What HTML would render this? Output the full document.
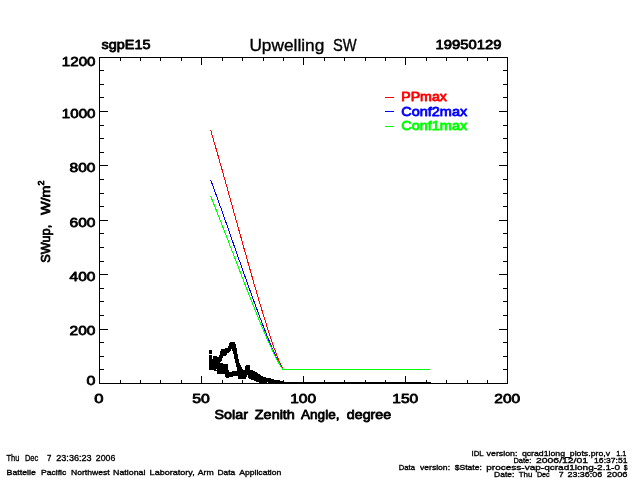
<!DOCTYPE html>
<html lang="en"><head><meta charset="utf-8"><title>Upwelling SW sgpE15 19950129</title>
<style>
html,body{margin:0;padding:0;background:#fff;}
body{width:640px;height:480px;overflow:hidden;}
svg{display:block;will-change:transform;}
text{font-family:"Liberation Sans",sans-serif;fill:#000;}
.b{stroke:#000;stroke-width:0.8px;stroke-linejoin:round;}
.s{stroke:#000;stroke-width:0.35px;}
.ax{stroke:#000;stroke-width:1;fill:none;shape-rendering:crispEdges;}
.ln{fill:none;stroke-width:1;shape-rendering:crispEdges;}
</style></head><body>
<svg width="640" height="480" viewBox="0 0 640 480">
<rect x="0" y="0" width="640" height="480" fill="#fff"/>
<g fill="#000" shape-rendering="crispEdges">
<rect x="99" y="57" width="409" height="1"/>
<rect x="99" y="383" width="409" height="1"/>
<rect x="99" y="57" width="1" height="327"/>
<rect x="507" y="57" width="1" height="327"/>
<rect x="120" y="380" width="1" height="3"/>
<rect x="120" y="58" width="1" height="3"/>
<rect x="140" y="380" width="1" height="3"/>
<rect x="140" y="58" width="1" height="3"/>
<rect x="160" y="380" width="1" height="3"/>
<rect x="160" y="58" width="1" height="3"/>
<rect x="181" y="380" width="1" height="3"/>
<rect x="181" y="58" width="1" height="3"/>
<rect x="201" y="376" width="1" height="7"/>
<rect x="201" y="58" width="1" height="7"/>
<rect x="222" y="380" width="1" height="3"/>
<rect x="222" y="58" width="1" height="3"/>
<rect x="242" y="380" width="1" height="3"/>
<rect x="242" y="58" width="1" height="3"/>
<rect x="263" y="380" width="1" height="3"/>
<rect x="263" y="58" width="1" height="3"/>
<rect x="283" y="380" width="1" height="3"/>
<rect x="283" y="58" width="1" height="3"/>
<rect x="303" y="376" width="1" height="7"/>
<rect x="303" y="58" width="1" height="7"/>
<rect x="324" y="380" width="1" height="3"/>
<rect x="324" y="58" width="1" height="3"/>
<rect x="344" y="380" width="1" height="3"/>
<rect x="344" y="58" width="1" height="3"/>
<rect x="365" y="380" width="1" height="3"/>
<rect x="365" y="58" width="1" height="3"/>
<rect x="385" y="380" width="1" height="3"/>
<rect x="385" y="58" width="1" height="3"/>
<rect x="405" y="376" width="1" height="7"/>
<rect x="405" y="58" width="1" height="7"/>
<rect x="426" y="380" width="1" height="3"/>
<rect x="426" y="58" width="1" height="3"/>
<rect x="446" y="380" width="1" height="3"/>
<rect x="446" y="58" width="1" height="3"/>
<rect x="467" y="380" width="1" height="3"/>
<rect x="467" y="58" width="1" height="3"/>
<rect x="487" y="380" width="1" height="3"/>
<rect x="487" y="58" width="1" height="3"/>
<rect x="100" y="369" width="4" height="1"/>
<rect x="503" y="369" width="4" height="1"/>
<rect x="100" y="356" width="4" height="1"/>
<rect x="503" y="356" width="4" height="1"/>
<rect x="100" y="342" width="4" height="1"/>
<rect x="503" y="342" width="4" height="1"/>
<rect x="100" y="329" width="8" height="1"/>
<rect x="499" y="329" width="8" height="1"/>
<rect x="100" y="315" width="4" height="1"/>
<rect x="503" y="315" width="4" height="1"/>
<rect x="100" y="301" width="4" height="1"/>
<rect x="503" y="301" width="4" height="1"/>
<rect x="100" y="288" width="4" height="1"/>
<rect x="503" y="288" width="4" height="1"/>
<rect x="100" y="274" width="8" height="1"/>
<rect x="499" y="274" width="8" height="1"/>
<rect x="100" y="261" width="4" height="1"/>
<rect x="503" y="261" width="4" height="1"/>
<rect x="100" y="247" width="4" height="1"/>
<rect x="503" y="247" width="4" height="1"/>
<rect x="100" y="233" width="4" height="1"/>
<rect x="503" y="233" width="4" height="1"/>
<rect x="100" y="220" width="8" height="1"/>
<rect x="499" y="220" width="8" height="1"/>
<rect x="100" y="206" width="4" height="1"/>
<rect x="503" y="206" width="4" height="1"/>
<rect x="100" y="193" width="4" height="1"/>
<rect x="503" y="193" width="4" height="1"/>
<rect x="100" y="179" width="4" height="1"/>
<rect x="503" y="179" width="4" height="1"/>
<rect x="100" y="165" width="8" height="1"/>
<rect x="499" y="165" width="8" height="1"/>
<rect x="100" y="152" width="4" height="1"/>
<rect x="503" y="152" width="4" height="1"/>
<rect x="100" y="138" width="4" height="1"/>
<rect x="503" y="138" width="4" height="1"/>
<rect x="100" y="125" width="4" height="1"/>
<rect x="503" y="125" width="4" height="1"/>
<rect x="100" y="111" width="8" height="1"/>
<rect x="499" y="111" width="8" height="1"/>
<rect x="100" y="97" width="4" height="1"/>
<rect x="503" y="97" width="4" height="1"/>
<rect x="100" y="84" width="4" height="1"/>
<rect x="503" y="84" width="4" height="1"/>
<rect x="100" y="70" width="4" height="1"/>
<rect x="503" y="70" width="4" height="1"/>
</g>
<polyline class="ln" stroke="#ff0000" points="210.6,129.6 211.6,133.1 212.6,136.7 213.6,140.2 214.6,143.7 215.7,147.3 216.7,150.9 217.7,154.4 218.7,158.0 219.7,161.6 220.8,165.2 221.8,168.8 222.8,172.5 223.8,176.1 224.8,179.7 225.9,183.4 226.9,187.0 227.9,190.7 228.9,194.3 229.9,198.0 231.0,201.6 232.0,205.3 233.0,209.0 234.0,212.6 235.1,216.3 236.1,220.0 237.1,223.6 238.1,227.3 239.1,230.9 240.2,234.6 241.2,238.2 242.2,241.9 243.2,245.5 244.2,249.2 245.3,252.8 246.3,256.4 247.3,260.0 248.3,263.6 249.3,267.2 250.4,270.8 251.4,274.4 252.4,277.9 253.4,281.4 254.4,285.0 255.5,288.5 256.5,292.0 257.5,295.4 258.5,298.9 259.5,302.3 260.6,305.7 261.6,309.1 262.6,312.5 263.6,315.8 264.7,319.1 265.7,322.4 266.7,325.6 267.7,328.8 268.7,332.0 269.8,335.1 270.8,338.2 271.8,341.2 272.8,344.2 273.8,347.1 274.9,350.0 275.9,352.8 276.9,355.5 277.9,358.2 278.9,360.7 280.0,363.2 281.0,365.5 282.0,367.6 283.0,369.4 283.4,369.9 430.4,369.9"/>
<polyline class="ln" stroke="#0000ff" points="210.6,179.6 211.6,182.4 212.6,185.2 213.6,188.0 214.6,190.8 215.7,193.6 216.7,196.5 217.7,199.3 218.7,202.1 219.7,205.0 220.8,207.8 221.8,210.7 222.8,213.6 223.8,216.4 224.8,219.3 225.9,222.2 226.9,225.1 227.9,228.0 228.9,230.9 229.9,233.8 231.0,236.7 232.0,239.6 233.0,242.5 234.0,245.4 235.1,248.3 236.1,251.2 237.1,254.1 238.1,257.0 239.1,259.9 240.2,262.8 241.2,265.6 242.2,268.5 243.2,271.4 244.2,274.3 245.3,277.2 246.3,280.0 247.3,282.9 248.3,285.7 249.3,288.6 250.4,291.4 251.4,294.2 252.4,297.1 253.4,299.9 254.4,302.6 255.5,305.4 256.5,308.2 257.5,310.9 258.5,313.7 259.5,316.4 260.6,319.1 261.6,321.8 262.6,324.4 263.6,327.1 264.7,329.7 265.7,332.3 266.7,334.8 267.7,337.4 268.7,339.9 269.8,342.3 270.8,344.8 271.8,347.2 272.8,349.5 273.8,351.9 274.9,354.1 275.9,356.4 276.9,358.5 277.9,360.6 278.9,362.6 280.0,364.6 281.0,366.4 282.0,368.1 283.0,369.5 283.4,369.9 430.4,369.9"/>
<polyline class="ln" stroke="#00ff00" points="210.6,195.9 211.6,198.4 212.6,201.0 213.6,203.5 214.6,206.1 215.7,208.7 216.7,211.3 217.7,213.9 218.7,216.5 219.7,219.1 220.8,221.7 221.8,224.3 222.8,226.9 223.8,229.5 224.8,232.2 225.9,234.8 226.9,237.5 227.9,240.1 228.9,242.7 229.9,245.4 231.0,248.0 232.0,250.7 233.0,253.3 234.0,256.0 235.1,258.7 236.1,261.3 237.1,264.0 238.1,266.6 239.1,269.3 240.2,271.9 241.2,274.6 242.2,277.2 243.2,279.8 244.2,282.5 245.3,285.1 246.3,287.7 247.3,290.3 248.3,292.9 249.3,295.5 250.4,298.1 251.4,300.7 252.4,303.3 253.4,305.8 254.4,308.4 255.5,310.9 256.5,313.5 257.5,316.0 258.5,318.5 259.5,321.0 260.6,323.4 261.6,325.9 262.6,328.3 263.6,330.7 264.7,333.1 265.7,335.5 266.7,337.8 267.7,340.1 268.7,342.4 269.8,344.7 270.8,346.9 271.8,349.1 272.8,351.3 273.8,353.4 274.9,355.5 275.9,357.5 276.9,359.5 277.9,361.4 278.9,363.3 280.0,365.0 281.0,366.7 282.0,368.2 283.0,369.5 283.4,369.9 430.4,369.9"/>
<g fill="#000" shape-rendering="crispEdges">
<rect x="209" y="350" width="3" height="4"/>
<rect x="283" y="382" width="148" height="1"/>
<path d="M209 355h1v15h-1zM210 355h1v15h-1zM211 355h1v15h-1zM212 359h1v11h-1zM213 356h1v14h-1zM214 356h1v15h-1zM215 356h1v15h-1zM216 356h1v15h-1zM217 357h1v17h-1zM218 357h1v17h-1zM219 355h1v19h-1zM220 351h1v23h-1zM221 349h1v25h-1zM222 349h1v25h-1zM223 349h1v25h-1zM224 349h1v25h-1zM225 348h1v29h-1zM226 348h1v30h-1zM227 348h1v30h-1zM228 346h1v32h-1zM229 343h1v34h-1zM230 342h1v35h-1zM231 342h1v35h-1zM232 342h1v35h-1zM233 342h1v34h-1zM234 342h1v34h-1zM235 344h1v32h-1zM236 348h1v28h-1zM237 354h1v22h-1zM238 359h1v20h-1zM239 363h1v16h-1zM240 365h1v14h-1zM241 367h1v12h-1zM242 369h1v10h-1zM243 370h1v9h-1zM244 370h1v9h-1zM245 366h1v13h-1zM246 365h1v12h-1zM247 365h1v10h-1zM248 365h1v13h-1zM249 365h1v14h-1zM250 370h1v9h-1zM251 370h1v10h-1zM252 370h1v10h-1zM253 371h1v9h-1zM254 371h1v10h-1zM255 372h1v9h-1zM256 372h1v10h-1zM257 373h1v9h-1zM258 374h1v8h-1zM259 374h1v9h-1zM260 375h1v8h-1zM261 376h1v7h-1zM262 376h1v7h-1zM263 377h1v6h-1zM264 377h1v6h-1zM265 377h1v6h-1zM266 378h1v5h-1zM267 378h1v5h-1zM268 378h1v5h-1zM269 378h1v5h-1zM270 378h1v5h-1zM271 379h1v4h-1zM272 379h1v4h-1zM273 379h1v4h-1zM274 380h1v3h-1zM275 380h1v3h-1zM276 380h1v3h-1zM277 380h1v3h-1zM278 380h1v3h-1zM279 380h1v3h-1zM280 381h1v2h-1zM281 381h1v2h-1zM282 381h1v2h-1zM283 381h1v2h-1zM284 382h1v1h-1zM285 382h1v1h-1zM286 382h1v1h-1z"/>
</g>
<path fill="#fff" shape-rendering="crispEdges" d="M231 349h1v1h-1zM231 350h1v1h-1zM230 351h3v1h-3zM229 352h4v1h-4zM227 353h6v1h-6zM227 354h7v1h-7zM226 355h8v1h-8zM223 356h11v1h-11zM223 357h11v1h-11zM222 358h12v1h-12zM222 359h13v1h-13zM222 360h13v1h-13zM221 361h14v1h-14zM220 362h15v1h-15zM223 363h13v1h-13zM228 364h8v1h-8zM228 365h8v1h-8zM228 366h8v1h-8zM228 367h9v1h-9zM228 368h9v1h-9zM228 369h9v1h-9zM229 370h8v1h-8zM229 371h3v1h-3z"/>
<rect x="216" y="369" width="1" height="1" fill="#fff"/>
<rect x="267" y="382" width="1" height="1" fill="#fff"/>
<text y="48.60" font-size="13.2" class="b"><tspan x="101.54" textLength="48.92" lengthAdjust="spacingAndGlyphs">sgpE15</tspan></text>
<text y="50.85" font-size="16.6" class="s"><tspan x="249.42" textLength="74.86" lengthAdjust="spacingAndGlyphs">Upwelling</tspan> <tspan x="333.02" textLength="23.66" lengthAdjust="spacingAndGlyphs">SW</tspan></text>
<text y="48.60" font-size="13.2" class="b"><tspan x="435.54" textLength="65.92" lengthAdjust="spacingAndGlyphs">19950129</tspan></text>
<text y="384.60" font-size="13.2" class="b"><tspan x="86.54" textLength="8.92" lengthAdjust="spacingAndGlyphs">0</tspan></text>
<text y="334.60" font-size="13.2" class="b"><tspan x="69.55" textLength="25.91" lengthAdjust="spacingAndGlyphs">200</tspan></text>
<text y="280.60" font-size="13.2" class="b"><tspan x="69.55" textLength="25.91" lengthAdjust="spacingAndGlyphs">400</tspan></text>
<text y="226.60" font-size="13.2" class="b"><tspan x="69.55" textLength="25.91" lengthAdjust="spacingAndGlyphs">600</tspan></text>
<text y="171.60" font-size="13.2" class="b"><tspan x="69.55" textLength="25.91" lengthAdjust="spacingAndGlyphs">800</tspan></text>
<text y="117.60" font-size="13.2" class="b"><tspan x="61.82" textLength="33.64" lengthAdjust="spacingAndGlyphs">1000</tspan></text>
<text y="65.60" font-size="13.2" class="b"><tspan x="61.82" textLength="33.64" lengthAdjust="spacingAndGlyphs">1200</tspan></text>
<text y="402.60" font-size="13.2" class="b"><tspan x="94.37" textLength="9.25" lengthAdjust="spacingAndGlyphs">0</tspan></text>
<text y="402.60" font-size="13.2" class="b"><tspan x="192.28" textLength="17.58" lengthAdjust="spacingAndGlyphs">50</tspan></text>
<text y="402.60" font-size="13.2" class="b"><tspan x="290.19" textLength="25.91" lengthAdjust="spacingAndGlyphs">100</tspan></text>
<text y="402.60" font-size="13.2" class="b"><tspan x="392.27" textLength="25.91" lengthAdjust="spacingAndGlyphs">150</tspan></text>
<text y="402.60" font-size="13.2" class="b"><tspan x="494.34" textLength="25.91" lengthAdjust="spacingAndGlyphs">200</tspan></text>
<text y="418.60" font-size="13.2" class="b"><tspan x="214.54" textLength="33.42" lengthAdjust="spacingAndGlyphs">Solar</tspan> <tspan x="254.84" textLength="40.02" lengthAdjust="spacingAndGlyphs">Zenith</tspan> <tspan x="301.04" textLength="38.42" lengthAdjust="spacingAndGlyphs">Angle,</tspan> <tspan x="346.79" textLength="44.47" lengthAdjust="spacingAndGlyphs">degree</tspan></text>
<text transform="translate(49.6,222) rotate(-90)" font-size="13.2" class="b"><tspan x="-40.8" textLength="38" lengthAdjust="spacingAndGlyphs">SWup,</tspan> <tspan x="7" textLength="29.5" lengthAdjust="spacingAndGlyphs">W/m</tspan><tspan x="36.6" dy="-6" font-size="8.5" textLength="5" lengthAdjust="spacingAndGlyphs">2</tspan></text>
<g shape-rendering="crispEdges">
<rect x="385" y="97" width="9" height="1" fill="#ff0000"/>
<rect x="385" y="111" width="9" height="1" fill="#0000ff"/>
<rect x="385" y="126" width="9" height="1" fill="#00ff00"/>
</g>
<text y="100.60" font-size="13.0" class="b" style="fill:#ff0000;stroke:#ff0000"><tspan x="401.25" textLength="45.61" lengthAdjust="spacingAndGlyphs">PPmax</tspan></text>
<text y="115.60" font-size="13.0" class="b" style="fill:#0000ff;stroke:#0000ff"><tspan x="401.25" textLength="65.91" lengthAdjust="spacingAndGlyphs">Conf2max</tspan></text>
<text y="129.80" font-size="13.0" class="b" style="fill:#00ff00;stroke:#00ff00"><tspan x="401.25" textLength="65.91" lengthAdjust="spacingAndGlyphs">Conf1max</tspan></text>
<text y="460.85" font-size="9.3" class="s"><tspan x="6.57" textLength="12.85" lengthAdjust="spacingAndGlyphs">Thu</tspan> <tspan x="24.97" textLength="13.25" lengthAdjust="spacingAndGlyphs">Dec</tspan> <tspan x="46.92" textLength="4.40" lengthAdjust="spacingAndGlyphs">7</tspan> <tspan x="56.27" textLength="35.35" lengthAdjust="spacingAndGlyphs">23:36:23</tspan> <tspan x="95.87" textLength="19.45" lengthAdjust="spacingAndGlyphs">2006</tspan></text>
<text y="475.05" font-size="8.0" class="s"><tspan x="6.62" textLength="29.26" lengthAdjust="spacingAndGlyphs">Battelle</tspan> <tspan x="40.97" textLength="25.31" lengthAdjust="spacingAndGlyphs">Pacific</tspan> <tspan x="70.97" textLength="38.61" lengthAdjust="spacingAndGlyphs">Northwest</tspan> <tspan x="113.12" textLength="32.26" lengthAdjust="spacingAndGlyphs">National</tspan> <tspan x="149.62" textLength="45.06" lengthAdjust="spacingAndGlyphs">Laboratory,</tspan> <tspan x="197.72" textLength="15.96" lengthAdjust="spacingAndGlyphs">Arm</tspan> <tspan x="217.52" textLength="17.76" lengthAdjust="spacingAndGlyphs">Data</tspan> <tspan x="239.22" textLength="42.06" lengthAdjust="spacingAndGlyphs">Application</tspan></text>
<text y="455.75" font-size="8.0" class="s"><tspan x="471.62" textLength="11.76" lengthAdjust="spacingAndGlyphs">IDL</tspan> <tspan x="486.62" textLength="30.76" lengthAdjust="spacingAndGlyphs">version:</tspan> <tspan x="521.92" textLength="88.11" lengthAdjust="spacingAndGlyphs">qcrad1long_plots.pro,v</tspan> <tspan x="616.22" textLength="9.96" lengthAdjust="spacingAndGlyphs">1.1</tspan></text>
<text y="462.75" font-size="8.0" class="s"><tspan x="513.47" textLength="17.81" lengthAdjust="spacingAndGlyphs">Date:</tspan> <tspan x="535.97" textLength="52.11" lengthAdjust="spacingAndGlyphs">2006/12/01</tspan> <tspan x="594.12" textLength="33.36" lengthAdjust="spacingAndGlyphs">16:37:51</tspan></text>
<text y="469.95" font-size="8.0" class="s"><tspan x="398.82" textLength="16.16" lengthAdjust="spacingAndGlyphs">Data</tspan> <tspan x="420.02" textLength="30.01" lengthAdjust="spacingAndGlyphs">version:</tspan> <tspan x="454.72" textLength="27.16" lengthAdjust="spacingAndGlyphs">$State:</tspan> <tspan x="486.22" textLength="133.76" lengthAdjust="spacingAndGlyphs">process-vap-qcrad1long-2.1-0</tspan> <tspan x="623.72" textLength="3.76" lengthAdjust="spacingAndGlyphs">$</tspan></text>
<text y="477.35" font-size="8.0" class="s"><tspan x="494.12" textLength="20.16" lengthAdjust="spacingAndGlyphs">Date:</tspan> <tspan x="518.72" textLength="13.66" lengthAdjust="spacingAndGlyphs">Thu</tspan> <tspan x="536.92" textLength="12.76" lengthAdjust="spacingAndGlyphs">Dec</tspan> <tspan x="558.82" textLength="4.86" lengthAdjust="spacingAndGlyphs">7</tspan> <tspan x="567.47" textLength="34.71" lengthAdjust="spacingAndGlyphs">23:36:06</tspan> <tspan x="606.82" textLength="20.66" lengthAdjust="spacingAndGlyphs">2006</tspan></text>
</svg></body></html>
